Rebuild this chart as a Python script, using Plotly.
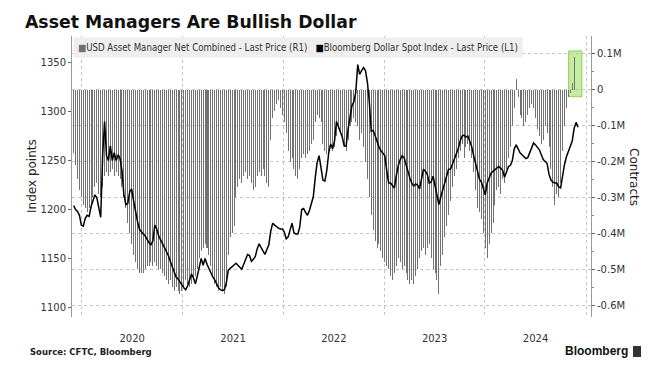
import pandas as pd
import plotly.graph_objects as go

# Weekly observations (Tuesdays)
start_date = "2019-12-03"

# Bloomberg Dollar Spot Index, weekly readings (index points)
bbdxy = [1204,1200,1198,1194,1184,1183,1191,1194,1193,1203,
         1209,1215,1212,1200,1192,1255,1290,1255,1250,1265,
         1250,1258,1250,1256,1252,1240,1215,1205,1206,1218,
         1221,1209,1197,1188,1180,1177,1175,1173,1169,1166,
         1164,1168,1184,1180,1173,1169,1165,1161,1157,1153,
         1147,1142,1137,1131,1129,1126,1122,1120,1118,1122,
         1128,1134,1130,1124,1132,1141,1150,1143,1150,1144,
         1139,1134,1131,1128,1124,1120,1118,1117,1118,1125,
         1138,1140,1142,1144,1145,1143,1141,1139,1144,1149,
         1154,1153,1147,1149,1152,1160,1165,1161,1157,1154,
         1159,1164,1178,1186,1184,1182,1181,1180,1180,1177,
         1170,1172,1179,1186,1176,1175,1175,1182,1200,1201,
         1197,1194,1199,1207,1213,1232,1248,1255,1244,1230,
         1229,1240,1258,1267,1262,1270,1290,1285,1278,1274,
         1265,1265,1282,1295,1306,1310,1320,1348,1338,1342,
         1345,1342,1330,1310,1280,1281,1275,1270,1264,1260,
         1257,1255,1240,1227,1227,1224,1222,1235,1245,1251,
         1255,1253,1245,1237,1232,1227,1224,1226,1225,1221,
         1230,1241,1239,1236,1227,1228,1234,1224,1216,1205,
         1213,1220,1228,1236,1241,1241,1246,1252,1258,1262,
         1270,1275,1276,1274,1275,1269,1264,1255,1247,1238,
         1231,1228,1220,1215,1227,1232,1237,1239,1241,1243,
         1244,1242,1240,1233,1238,1244,1245,1250,1262,1266,
         1262,1258,1256,1254,1252,1253,1258,1263,1268,1266,
         1264,1261,1256,1251,1249,1247,1236,1230,1228,1227,
         1227,1223,1222,1236,1246,1254,1259,1263,1270,1283,
         1289,1284]

# USD Asset Manager Net Combined positioning, thousands of contracts
net_k = [-175,-210,-250,-280,-300,-320,-330,-340,-330,-320,
         -300,-270,-260,-290,-300,-270,-240,-230,-240,-230,
         -220,-240,-230,-240,-250,-270,-300,-330,-370,-400,
         -430,-460,-480,-500,-510,-510,-510,-500,-490,-490,
         -480,-490,-480,-490,-500,-500,-510,-520,-530,-540,
         -530,-550,-560,-550,-560,-570,-560,-550,-530,-540,
         -550,-540,-530,-520,-500,-470,-450,-440,-430,-440,
         -460,-490,-520,-540,-550,-560,-550,-560,-570,-550,
         -460,-410,-400,-380,-300,-270,-250,-260,-240,-230,
         -250,-240,-260,-280,-270,-240,-230,-240,-220,-240,
         -260,-270,-140,-80,-60,-40,-30,-50,-70,-90,
         -120,-170,-200,-190,-220,-240,-250,-220,-190,-180,
         -190,-180,-170,-150,-140,-90,-70,-80,-90,-150,
         -170,-180,-170,-160,-170,-160,-130,-110,-120,-140,
         -160,-170,-140,-100,-90,-80,-90,-100,-140,-120,
         -160,-200,-250,-300,-350,-390,-420,-440,-430,-450,
         -470,-480,-490,-500,-520,-530,-510,-490,-470,-480,
         -500,-490,-510,-530,-540,-530,-540,-520,-500,-470,
         -450,-440,-460,-440,-430,-470,-500,-510,-530,-570,
         -490,-460,-410,-380,-350,-310,-270,-240,-220,-190,
         -170,-150,-190,-160,-150,-170,-190,-230,-280,-330,
         -340,-360,-400,-440,-470,-430,-400,-370,-320,-280,
         -270,-290,-250,-260,-220,-190,-160,-100,-50,30,
         -20,-70,-80,-100,-90,-70,-50,-40,-50,-80,
         -110,-130,-150,-140,-100,-120,-160,-220,-270,-320,
         -290,-300,-260,-170,-100,-50,-20,-10,20,90]

contract_ticks = [100000, 0, -100000, -200000, -300000, -400000, -500000, -600000]
contract_labels = ["0.1M", "0", "-0.1M", "-0.2M", "-0.3M", "-0.4M", "-0.5M", "-0.6M"]
index_ticks = [1100, 1150, 1200, 1250, 1300, 1350]

line_dates = pd.date_range(start_date, periods=len(bbdxy), freq="7D")
bar_dates = pd.date_range(start_date, periods=len(net_k), freq="7D")
net = [v * 1000 for v in net_k]

# page has an 8px body margin; figure is sized so the page content spans 657x370
W, H, OFF = 649, 362, 8

fig = go.Figure()
fig.add_trace(go.Bar(
    x=bar_dates, y=net, yaxis="y",
    marker=dict(color="rgba(112,112,112,0.99)", line=dict(width=0)),
    width=3.63 * 86400000, showlegend=False,
    name="USD Asset Manager Net Combined - Last Price (R1)"))
fig.add_trace(go.Scatter(
    x=line_dates, y=bbdxy, yaxis="y2", mode="lines",
    line=dict(color="#000000", width=1.5), showlegend=False,
    name="Bloomberg Dollar Spot Index - Last Price (L1)"))

tickfont = dict(family="DejaVu Sans", size=10, color="#333333")

fig.update_layout(
    width=W, height=H,
    margin=dict(l=72 - OFF, r=66, t=36 - OFF, b=53),
    paper_bgcolor="white", plot_bgcolor="white",
    bargap=0,
    title=dict(text="<b>Asset Managers Are Bullish Dollar</b>",
               x=(25 - OFF) / W, xanchor="left", y=1 - (22 - OFF) / H, yanchor="middle",
               font=dict(family="DejaVu Sans", size=17.3, color="#111111")),
    xaxis=dict(type="date", range=["2019-11-27", "2025-01-19"],
               dtick="M12", tick0="2020-01-01", ticklabelmode="period",
               tickformat="%Y", ticks="", showline=False,
               showgrid=True, griddash="dot", gridcolor="#c4c4c4", gridwidth=1,
               tickfont=tickfont, ticklabelstandoff=14, zeroline=False),
    yaxis=dict(side="right", range=[-633000, 149600],
               tickmode="array", tickvals=contract_ticks, ticktext=contract_labels,
               ticks="outside", ticklen=3, tickcolor="#666666",
               minor=dict(tickmode="array",
                          tickvals=[50000, -50000, -150000, -250000, -350000, -450000, -550000],
                          ticks="outside", ticklen=2, tickcolor="#888888", showgrid=False),
               showline=True, linecolor="#9a9a9a", linewidth=1,
               showgrid=True, griddash="dot", gridcolor="#c4c4c4", gridwidth=1,
               zeroline=False, tickfont=tickfont),
    yaxis2=dict(side="left", overlaying="y", range=[1090.1, 1377.3],
                tickmode="array", tickvals=index_ticks,
                ticks="outside", ticklen=3, tickcolor="#666666",
                showline=True, linecolor="#9a9a9a", linewidth=1,
                showgrid=False, zeroline=False, tickfont=tickfont),
)

# legend band
legend_text = ('<span style="color:#6f6f6f">■</span>USD Asset Manager Net Combined - Last Price (R1)'
               '&nbsp;&nbsp;&nbsp;<span style="color:#000000">■</span>Bloomberg Dollar Spot Index - Last Price (L1)')
fig.add_annotation(xref="paper", yref="paper", x=0.002, y=0.998,
                   xanchor="left", yanchor="top", text=legend_text, showarrow=False,
                   bgcolor="#eeeeee", borderpad=4, align="left",
                   font=dict(family="DejaVu Sans Condensed", size=9.6, color="#333333"))

# axis titles
fig.add_annotation(xref="paper", yref="paper", x=(23 - 72) / 519, y=0.502,
                   text="Index points", textangle=-90, showarrow=False,
                   font=dict(family="DejaVu Sans", size=12, color="#222222"))
fig.add_annotation(xref="paper", yref="paper", x=(643 - 72) / 519, y=0.498,
                   text="Contracts", textangle=90, showarrow=False,
                   font=dict(family="DejaVu Sans", size=12, color="#222222"))

# footer
fig.add_annotation(xref="paper", yref="paper", x=(28 - 72) / 519, y=(317 - 352) / 281,
                   xanchor="left", yanchor="middle", text="<b>Source: CFTC, Bloomberg</b>",
                   showarrow=False, font=dict(family="DejaVu Sans", size=8.5, color="#222222"))
fig.add_annotation(xref="paper", yref="paper", x=(630 - 72) / 519, y=(317 - 351) / 281,
                   xanchor="right", yanchor="middle", text="<b>Bloomberg</b>",
                   showarrow=False, font=dict(family="Liberation Sans", size=12, color="#111111"))
fig.add_shape(type="rect", xref="paper", yref="paper",
              x0=(633 - 72) / 519, x1=(641 - 72) / 519,
              y0=(317 - 357) / 281, y1=(317 - 346) / 281,
              fillcolor="#333333", line=dict(width=0))

# highlight box around latest readings
fig.add_shape(type="rect", xref="x", yref="y",
              x0="2024-10-30", x1="2024-12-17", y0=-19500, y1=108000,
              fillcolor="rgba(160,222,100,0.6)", line=dict(color="#8fd15a", width=1),
              layer="below")

fig.write_html("out.html")
